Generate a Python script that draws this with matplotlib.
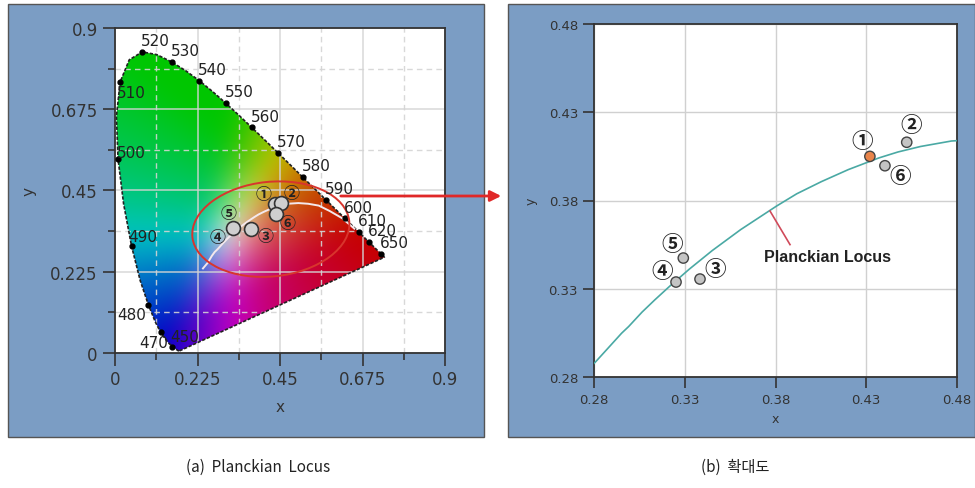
import matplotlib
matplotlib.use("Agg")
import matplotlib.pyplot as plt
import numpy as np
from matplotlib.patches import Rectangle, Polygon, Ellipse, FancyArrowPatch

# CIE 1931 spectral locus (nm, x, y)
wl = [380, 450, 460, 470, 475, 480, 485, 490, 495, 500, 505, 510, 515, 520, 525,
      530, 535, 540, 545, 550, 555, 560, 565, 570, 575, 580, 585, 590, 595, 600,
      605, 610, 620, 630, 640, 650, 700]
loc_x = [0.1741, 0.1566, 0.1440, 0.1241, 0.1096, 0.0913, 0.0687, 0.0454, 0.0235,
         0.0082, 0.0039, 0.0139, 0.0389, 0.0743, 0.1142, 0.1547, 0.1929, 0.2296,
         0.2658, 0.3016, 0.3373, 0.3731, 0.4087, 0.4441, 0.4788, 0.5125, 0.5448,
         0.5752, 0.6029, 0.6270, 0.6482, 0.6658, 0.6915, 0.7079, 0.7190, 0.7260, 0.7347]
loc_y = [0.0050, 0.0177, 0.0297, 0.0578, 0.0868, 0.1327, 0.2007, 0.2950, 0.4127,
         0.5384, 0.6548, 0.7502, 0.8120, 0.8338, 0.8262, 0.8059, 0.7816, 0.7543,
         0.7243, 0.6923, 0.6589, 0.6245, 0.5896, 0.5547, 0.5202, 0.4866, 0.4544,
         0.4242, 0.3965, 0.3725, 0.3514, 0.3340, 0.3083, 0.2920, 0.2809, 0.2740, 0.2653]
labeled_wl = [450, 470, 480, 490, 500, 510, 520, 530, 540, 550, 560, 570, 580,
              590, 600, 610, 620, 650]

# Planckian locus (x, y) from high CCT down to 1000 K
pl_x = [0.2399, 0.2530, 0.2637, 0.2716, 0.2807, 0.2869, 0.2952, 0.2991, 0.3065,
        0.3135, 0.3221, 0.3325, 0.3451, 0.3608, 0.3805, 0.3917, 0.4053, 0.4201,
        0.4369, 0.4475, 0.4599, 0.4769, 0.5000, 0.5267, 0.5557, 0.5857, 0.6201, 0.6528]
pl_y = [0.2342, 0.2500, 0.2683, 0.2794, 0.2884, 0.2954, 0.3048, 0.3086, 0.3168,
        0.3237, 0.3318, 0.3411, 0.3516, 0.3635, 0.3768, 0.3838, 0.3907, 0.3975,
        0.4041, 0.4075, 0.4106, 0.4137, 0.4152, 0.4133, 0.4082, 0.3931, 0.3729, 0.3444]

# measured sources (zoomed view)
src_labels = ['①', '②', '③', '④', '⑤', '⑥']
src_x = [0.432, 0.4523, 0.3384, 0.3252, 0.3292, 0.4403]
src_y = [0.405, 0.413, 0.3355, 0.3338, 0.3474, 0.3997]
# markers as drawn in the overview
ov_x = [0.322, 0.371, 0.436, 0.454, 0.438]
ov_y = [0.347, 0.343, 0.412, 0.416, 0.384]

ticks_a = [0, 0.225, 0.45, 0.675, 0.9]
ticks_b = [0.28, 0.33, 0.38, 0.43, 0.48]

BG = '#7b9dc4'
W, H = 975, 489
fig = plt.figure(figsize=(W / 100, H / 100), dpi=100)
fig.patch.set_facecolor('white')

# blue panels
for x0, x1 in [(8, 484), (508, 975)]:
    fig.add_artist(Rectangle((x0 / W, 1 - 438 / H), (x1 - x0) / W, 433 / H,
                             transform=fig.transFigure, facecolor=BG,
                             edgecolor='#555555', linewidth=1.0, zorder=0))

# ---------- (a) chromaticity diagram ----------
ax = fig.add_axes([115 / W, 1 - 354 / H, 330 / W, 325 / H])
ax.set_facecolor('white')

gx, gy = np.meshgrid(np.linspace(0, 0.75, 300), np.linspace(0.001, 0.85, 300))
X = gx / gy
Z = (1 - gx - gy) / gy
M = np.array([[3.2406, -1.5372, -0.4986],
              [-0.9689, 1.8758, 0.0415],
              [0.0557, -0.2040, 1.0570]])
rgb = np.einsum('ij,jkl->kli', M, np.array([X, np.ones_like(X), Z]))
rgb = np.clip(rgb, 0, None)
rgb = rgb / np.maximum(rgb.max(axis=2, keepdims=True), 1e-9)
rgb = rgb * (0.72 + 0.28 * rgb.min(axis=2, keepdims=True))
rgb = np.clip(rgb, 0, 1) ** (1 / 1.3)
# soften the colour ridges
r = 40
k = np.exp(-0.5 * (np.arange(-r, r + 1) / 13.0) ** 2)
k /= k.sum()
pad = np.pad(rgb, ((r, r), (r, r), (0, 0)), mode='edge')
pad = np.apply_along_axis(lambda v: np.convolve(v, k, mode='same'), 0, pad)
pad = np.apply_along_axis(lambda v: np.convolve(v, k, mode='same'), 1, pad)
rgb = np.clip(pad[r:-r, r:-r], 0, 1)

im = ax.imshow(rgb, extent=[0, 0.75, 0.001, 0.85], origin='lower', aspect='auto',
               interpolation='bilinear')
poly = Polygon(np.column_stack([loc_x, loc_y]), closed=True, transform=ax.transData,
               facecolor='none', edgecolor='none')
ax.add_patch(poly)
im.set_clip_path(poly)

ax.plot(loc_x + [loc_x[0]], loc_y + [loc_y[0]], color='#222222', lw=1.2,
        ls=(0, (2, 1)), zorder=3)
lx = [loc_x[wl.index(w)] for w in labeled_wl]
ly = [loc_y[wl.index(w)] for w in labeled_wl]
ax.plot(lx, ly, 'o', color='black', ms=3.5, zorder=4)

offsets = {450: (-2, 10), 470: (-20, -10), 480: (-30, -9), 490: (-3, 10),
           500: (-1, 6), 510: (-3, -10)}
for w, x, y in zip(labeled_wl, lx, ly):
    dx, dy = offsets.get(w, (-1, 11))
    ax.annotate(str(w), (x, y), xytext=(dx * 0.75, dy * 0.75), textcoords='offset points',
                ha='left', va='center', fontsize=11, color='#222222', zorder=5)

ax.plot(pl_x, pl_y, color='#f4e8ec', lw=1.4, zorder=3)
ax.add_patch(Ellipse((0.425, 0.343), 0.43, 0.262, angle=6, facecolor='none',
                     edgecolor='#d8352d', lw=1.4, zorder=4))
ax.plot(ov_x, ov_y, 'o', ms=10, mfc='#cfcfcf', mec='#333333', mew=1.2, zorder=5)
ov_lab_x = [0.405, 0.4815, 0.41, 0.28, 0.309, 0.47]
ov_lab_y = [0.439, 0.444, 0.324, 0.32, 0.387, 0.361]
for t, x, y in zip(src_labels, ov_lab_x, ov_lab_y):
    ax.text(x, y, t, ha='center', va='center', fontsize=11.5, color='#222222',
            family=['Noto Sans CJK KR', 'DejaVu Sans'], fontweight='bold', zorder=6)

ax.set_xlim(0, 0.9)
ax.set_ylim(0, 0.9)
ax.set_xticks(ticks_a)
ax.set_yticks(ticks_a)
ax.set_xticklabels([f'{t:g}' for t in ticks_a])
ax.set_yticklabels([f'{t:g}' for t in ticks_a])
ax.set_xticks(np.arange(0.1125, 0.9, 0.225), minor=True)
ax.set_yticks(np.arange(0.1125, 0.9, 0.225), minor=True)
ax.grid(True, which='major', color='#d4d4d4', lw=1.1, alpha=0.9)
ax.grid(True, which='minor', color='#d4d4d4', lw=1.0, ls=(0, (4, 3)), alpha=0.9)
ax.tick_params(which='major', length=9, width=1.2, color='#333333',
               labelsize=12, labelcolor='#333333')
ax.tick_params(which='minor', length=5, width=1.2, color='#333333')
for s in ax.spines.values():
    s.set_color('#333333')
    s.set_linewidth(1.3)
ax.set_xlabel('x', fontsize=11, color='#333333', labelpad=8)
ax.set_ylabel('y', fontsize=11, color='#333333', labelpad=10)

# ---------- (b) zoomed view ----------
bx = fig.add_axes([594 / W, 1 - 378 / H, 363 / W, 353 / H])
bx.set_facecolor('white')
bx.plot(pl_x, pl_y, color='#4aa9a4', lw=1.2, zorder=3)
bx.scatter(src_x, src_y, s=55, c=['#e8844a'] + ['#c4c4c4'] * 5, edgecolors='#444444',
           linewidths=1.0, zorder=4)
lab_x = [0.4275, 0.4547, 0.3467, 0.3178, 0.3232, 0.4486]
lab_y = [0.4139, 0.4233, 0.3412, 0.3402, 0.3554, 0.394]
for t, x, y in zip(src_labels, lab_x, lab_y):
    bx.text(x, y, t, ha='center', va='center', fontsize=15.5, color='#222222',
            family=['Noto Sans CJK KR', 'DejaVu Sans'], fontweight='bold', zorder=5)
bx.plot([0.3770, 0.3880], [0.3740, 0.3550], color='#d04a5a', lw=1.2, zorder=4)
bx.text(0.4085, 0.3485, 'Planckian Locus', ha='center', va='center', fontsize=11.5,
        fontweight='bold', family='Liberation Sans', color='#222222')
bx.set_xlim(0.28, 0.48)
bx.set_ylim(0.28, 0.48)
bx.set_xticks(ticks_b)
bx.set_yticks(ticks_b)
bx.set_xticklabels([f'{t:.2f}' for t in ticks_b])
bx.set_yticklabels([f'{t:.2f}' for t in ticks_b])
bx.grid(True, color='#d0d0d0', lw=1.0)
bx.tick_params(length=8, width=1.2, color='#333333', labelsize=9.5, labelcolor='#333333')
for s in bx.spines.values():
    s.set_color('#333333')
    s.set_linewidth(1.3)
bx.set_xlabel('x', fontsize=9, color='#333333', labelpad=4)
bx.set_ylabel('y', fontsize=9, color='#333333', labelpad=8)

# red arrow between the panels
fig.add_artist(FancyArrowPatch((338 / W, 1 - 197 / H), (504 / W, 1 - 197 / H),
                               transform=fig.transFigure, arrowstyle='-|>',
                               mutation_scale=16, color='#e02828', lw=2, zorder=10))

fig.text(258 / W, 1 - 467 / H, '(a)  Planckian  Locus', ha='center', va='center',
         fontsize=11, family=['Noto Sans CJK KR', 'DejaVu Sans'], color='#222222')
fig.text(735 / W, 1 - 467 / H, '(b)  확대도', ha='center', va='center',
         fontsize=11, family=['Noto Sans CJK KR', 'DejaVu Sans'], color='#222222')

fig.savefig('out.png', dpi=100)
